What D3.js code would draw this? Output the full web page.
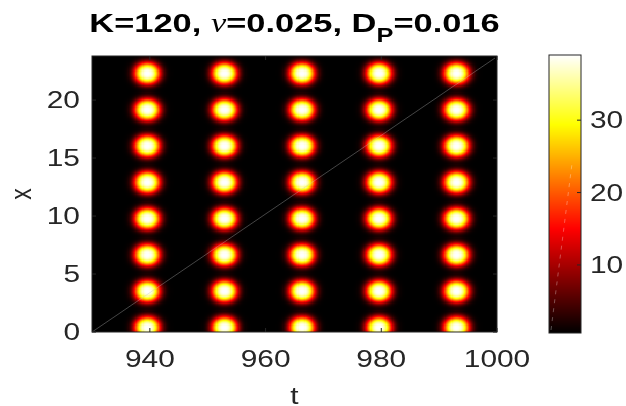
<!DOCTYPE html>
<html><head><meta charset="utf-8">
<script src="https://cdn.jsdelivr.net/npm/d3@7"></script>
<style>
html,body{margin:0;padding:0;background:#fff;}
#wrap{position:relative;width:626px;height:406px;}
canvas,svg{position:absolute;left:0;top:0;}
</style></head>
<body><div id="wrap"></div>
<script>
// ---- data ----
const tDomain = [930, 1000];
const xDomain = [0, 23.8];
const tTicks = [940, 960, 980, 1000];
const xTicks = [0, 5, 10, 15, 20];
const cbTicks = [10, 20, 30];
const cbDomain = [0.6, 39];
const spotT = [939.65, 953.0, 966.4, 979.7, 993.1];      // column centres (t)
const spotX = [0.43, 3.56, 6.69, 9.82, 12.95, 16.08, 19.21, 22.34]; // row centres (x)
const spotPeak = [38.4];
const baseLevel = [0.6];
const spotCoreT = [1.55];   // half-width of bright core along t
const spotCoreX = [0.66];   // half-width of bright core along x
const profileExp = [2.8];
const profileK = [0.357];

const W = 626, H = 406;
const SX = 1.3; // horizontal stretch of the original text
const plot = {l: 92, r: 497, t: 56, b: 332};
const cb = {l: 549, r: 581, t: 55, b: 333};

const xScale = d3.scaleLinear().domain(tDomain).range([plot.l, plot.r]);
const yScale = d3.scaleLinear().domain(xDomain).range([plot.b, plot.t]);
const cScale = d3.scaleLinear().domain(cbDomain).range([0, 1]).clamp(true);
const cbY = d3.scaleLinear().domain(cbDomain).range([cb.b, cb.t]);

function hot(v) {
  const u = cScale(v);
  const r = Math.min(1, u / 0.375);
  const g = Math.max(0, Math.min(1, (u - 0.375) / 0.375));
  const b = Math.max(0, Math.min(1, (u - 0.75) / 0.25));
  return d3.rgb(r * 255, g * 255, b * 255).toString();
}

// ---- field grid ----
const dt = 0.2, dx = 0.1;
const cells = [];
for (let t = tDomain[0] + dt / 2; t < tDomain[1]; t += dt) {
  for (let x = xDomain[0] + dx / 2; x < xDomain[1]; x += dx) {
    let v = baseLevel[0];
    for (const st of spotT) {
      const at = (t - st) / spotCoreT[0];
      if (Math.abs(at) > 8) continue;
      for (const sx of spotX) {
        const ax = (x - sx) / spotCoreX[0];
        const r = Math.sqrt(at * at + ax * ax);
        v += spotPeak[0] * Math.exp(-profileK[0] * Math.pow(r, profileExp[0]));
      }
    }
    cells.push({t, x, v});
  }
}

const wrap = d3.select('#wrap');
const canvas = wrap.append('canvas').attr('width', W).attr('height', H).node();
const ctx = canvas.getContext('2d');
ctx.fillStyle = '#fff'; ctx.fillRect(0, 0, W, H);
ctx.save();
ctx.beginPath(); ctx.rect(plot.l, plot.t, plot.r - plot.l, plot.b - plot.t); ctx.clip();
for (const c of cells) {
  const x0 = Math.floor(xScale(c.t - dt / 2)), x1 = Math.ceil(xScale(c.t + dt / 2));
  const y0 = Math.floor(yScale(c.x + dx / 2)), y1 = Math.ceil(yScale(c.x - dx / 2));
  ctx.fillStyle = hot(c.v);
  ctx.fillRect(x0, y0, Math.max(1, x1 - x0), Math.max(1, y1 - y0));
}
ctx.restore();

// colorbar gradient (one row per pixel)
for (let py = cb.t; py < cb.b; py++) {
  const v = cbY.invert(py + 0.5);
  ctx.fillStyle = hot(v);
  ctx.fillRect(cb.l, py, cb.r - cb.l, 1);
}

const svg = wrap.append('svg').attr('width', W).attr('height', H);
const font = "'Liberation Sans', Arial, Helvetica, sans-serif";
const ink = '#262626';

// diagonal artefact line
svg.append('line')
  .attr('x1', xScale(tDomain[0])).attr('y1', yScale(xDomain[0]))
  .attr('x2', xScale(tDomain[1]) - 2).attr('y2', yScale(xDomain[1]) + 2)
  .attr('stroke', '#c0c0c0').attr('stroke-opacity', 0.45).attr('stroke-width', 0.8);
// faint dashed artefact in colorbar
svg.append('line')
  .attr('x1', cb.l + 2).attr('y1', cb.b - 3).attr('x2', cb.l + 23).attr('y2', cbY(24))
  .attr('stroke', '#fff').attr('stroke-opacity', 0.35).attr('stroke-width', 0.9)
  .attr('stroke-dasharray', '4,5');

// axes box and ticks
svg.append('rect').attr('x', plot.l).attr('y', plot.t)
  .attr('width', plot.r - plot.l).attr('height', plot.b - plot.t)
  .attr('fill', 'none').attr('stroke', ink).attr('stroke-width', 1);
const tl = 4;
tTicks.forEach(t => {
  const x = xScale(t);
  svg.append('line').attr('x1', x).attr('x2', x).attr('y1', plot.b).attr('y2', plot.b - tl).attr('stroke', ink);
  svg.append('line').attr('x1', x).attr('x2', x).attr('y1', plot.t).attr('y2', plot.t + tl).attr('stroke', ink);
  svg.append('text').attr('transform', `translate(${x},367) scale(${SX},1)`)
    .attr('text-anchor', 'middle').attr('font-family', font).attr('font-size', 23)
    .attr('fill', ink).text(t);
});
xTicks.forEach(v => {
  const y = yScale(v);
  svg.append('line').attr('x1', plot.l).attr('x2', plot.l + tl).attr('y1', y).attr('y2', y).attr('stroke', ink);
  svg.append('line').attr('x1', plot.r).attr('x2', plot.r - tl).attr('y1', y).attr('y2', y).attr('stroke', ink);
  svg.append('text').attr('transform', `translate(80,${y + 8.3}) scale(${SX},1)`)
    .attr('text-anchor', 'end').attr('font-family', font).attr('font-size', 23)
    .attr('fill', ink).text(v);
});

// axis labels
svg.append('text').attr('transform', `translate(${(plot.l + plot.r) / 2},404) scale(${SX},1)`)
  .attr('text-anchor', 'middle').attr('font-family', font).attr('font-size', 23)
  .attr('fill', ink).text('t');
svg.append('text').attr('transform', `translate(31,${(plot.t + plot.b) / 2}) scale(${SX},1) rotate(-90)`)
  .attr('text-anchor', 'middle').attr('font-family', font).attr('font-size', 23)
  .attr('fill', ink).text('x');

// title
const title = svg.append('text')
  .attr('transform', `translate(${(plot.l + plot.r) / 2},32) scale(${SX},1)`)
  .attr('text-anchor', 'middle').attr('font-family', font).attr('font-size', 26.5)
  .attr('font-weight', 'bold').attr('fill', '#000');
title.append('tspan').text('K=120, ');
title.append('tspan').attr('font-family', "'Liberation Serif', 'Times New Roman', serif")
  .attr('font-style', 'italic').attr('font-weight', 'normal').text('ν');
title.append('tspan').text('=0.025, D');
title.append('tspan').attr('font-size', 19.5).attr('dy', 10).text('P');
title.append('tspan').attr('dy', -10).text('=0.016');

// colorbar frame and ticks
svg.append('rect').attr('x', cb.l).attr('y', cb.t).attr('width', cb.r - cb.l).attr('height', cb.b - cb.t)
  .attr('fill', 'none').attr('stroke', ink).attr('stroke-width', 1);
cbTicks.forEach(v => {
  const y = cbY(v);
  svg.append('line').attr('x1', cb.r).attr('x2', cb.r - 4).attr('y1', y).attr('y2', y).attr('stroke', ink);
  svg.append('text').attr('transform', `translate(590,${y + 8.3}) scale(${SX},1)`)
    .attr('text-anchor', 'start').attr('font-family', font).attr('font-size', 23)
    .attr('fill', ink).text(v);
});
</script></body></html>
